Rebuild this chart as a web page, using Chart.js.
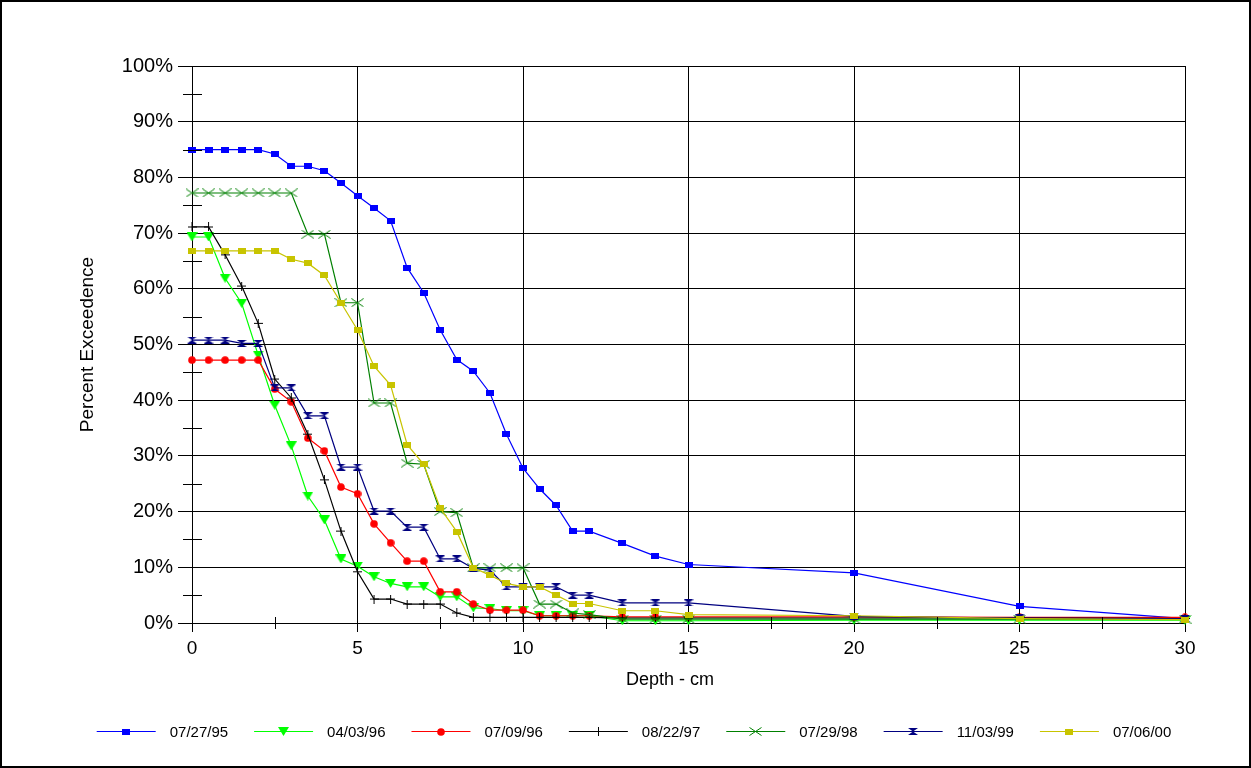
<!DOCTYPE html>
<html>
<head>
<meta charset="utf-8">
<script src="https://cdn.jsdelivr.net/npm/chart.js@4.4.0/dist/chart.umd.min.js"></script>
<style>
  html, body { margin: 0; padding: 0; background: #ffffff; }
  #wrap { width: 1251px; height: 768px; }
</style>
</head>
<body>
<div id="wrap"><canvas id="c" width="1251" height="768"></canvas></div>
<script>
// Depth (cm) at which each exceedence value was sampled
const depths = [0, 0.5, 1, 1.5, 2, 2.5, 3, 3.5, 4, 4.5, 5, 5.5, 6, 6.5, 7, 7.5, 8, 8.5, 9, 9.5, 10, 10.5, 11, 11.5, 12, 13, 14, 15, 20, 25, 30];

// Survey dates (series names)
const surveyDates = ['07/27/95', '04/03/96', '07/09/96', '08/22/97', '07/29/98', '11/03/99', '07/06/00'];

// Percent exceedence per survey
const s950727 = [85, 85, 85, 85, 85, 84.2, 82, 82, 81.2, 79, 76.7, 74.5, 72.2, 63.8, 59.3, 52.6, 47.3, 45.2, 41.3, 33.9, 27.8, 24.1, 21.1, 16.5, 16.5, 14.3, 12.0, 10.5, 9.0, 3.0, 0.8];
const s960403 = [69.3, 69.3, 61.9, 57.4, 48.1, 39.1, 31.8, 22.8, 18.5, 11.5, 10.2, 8.3, 7.1, 6.5, 6.5, 4.7, 4.7, 2.7, 2.6, 2.2, 2.2, 1.3, 1.3, 1.3, 1.3, 0.4, 0.4, 0.4, 0.5, 0.5, 0.5];
const s960709 = [47.2, 47.2, 47.2, 47.2, 47.2, 42.0, 39.7, 33.2, 30.9, 24.4, 23.2, 17.8, 14.4, 11.1, 11.1, 5.6, 5.6, 3.4, 2.3, 2.3, 2.3, 1.3, 1.3, 1.3, 1.3, 1.1, 1.1, 1.1, 1.1, 1.0, 1.0];
const s970822 = [71.1, 71.1, 66.1, 60.5, 53.8, 43.8, 40.4, 33.9, 25.7, 16.5, 9.2, 4.3, 4.3, 3.4, 3.4, 3.4, 1.8, 1.0, 1.0, 1.0, 1.0, 1.0, 1.0, 1.0, 1.0, 0.9, 0.9, 0.9, 0.9, 0.9, 0.8];
const s980729 = [77.2, 77.2, 77.2, 77.2, 77.2, 77.2, 77.2, 69.8, 69.8, 57.5, 57.5, 39.5, 39.5, 28.7, 28.5, 20.0, 19.8, 9.9, 9.9, 9.9, 9.9, 3.4, 3.4, 1.8, 1.5, 0.7, 0.7, 0.7, 0.7, 0.7, 0.7];
const s991103 = [50.8, 50.8, 50.8, 50.2, 50.2, 42.2, 42.2, 37.2, 37.2, 28.0, 28.0, 20.1, 20.1, 17.2, 17.2, 11.5, 11.5, 9.8, 9.5, 6.5, 6.5, 6.5, 6.5, 5.0, 5.0, 3.6, 3.6, 3.6, 1.2, 0.9, 0.8];
const s000706 = [66.8, 66.8, 66.8, 66.8, 66.8, 66.8, 65.3, 64.6, 62.4, 57.5, 52.6, 46.1, 42.7, 32.0, 28.5, 20.6, 16.4, 9.9, 8.6, 7.1, 6.5, 6.5, 5.0, 3.5, 3.5, 2.2, 2.2, 1.5, 1.3, 0.8, 0.6];

const seriesValues = [s950727, s960403, s960709, s970822, s980729, s991103, s000706];

// Axis tick values
const xTickValues = [0, 5, 10, 15, 20, 25, 30];
const yTickValues = [0, 10, 20, 30, 40, 50, 60, 70, 80, 90, 100];

const FONT = 'Arial, "Liberation Sans", sans-serif';
const colors = ['#0000ff', '#00ff00', '#ff0000', '#000000', '#008000', '#000080', '#c8c400'];
const markerKinds = ['square', 'triDown', 'circle', 'plus', 'cross', 'hourglass', 'square'];

// Build small canvases used as point markers
function makeMarker(kind, color) {
  const c = document.createElement('canvas');
  const g = c.getContext('2d');
  if (kind === 'square') {
    c.width = 8; c.height = 6;
    g.fillStyle = color; g.fillRect(0, 0, 8, 6);
  } else if (kind === 'triDown') {
    c.width = 11; c.height = 9;
    g.fillStyle = color;
    g.beginPath(); g.moveTo(0, 0); g.lineTo(11, 0); g.lineTo(5.5, 9); g.closePath(); g.fill();
  } else if (kind === 'circle') {
    c.width = 8; c.height = 8;
    g.fillStyle = color;
    g.beginPath(); g.arc(4, 4, 3.8, 0, Math.PI * 2); g.fill();
  } else if (kind === 'plus') {
    c.width = 9; c.height = 9;
    g.strokeStyle = color; g.lineWidth = 1;
    g.beginPath(); g.moveTo(0, 4.5); g.lineTo(9, 4.5); g.moveTo(4.5, 0); g.lineTo(4.5, 9); g.stroke();
  } else if (kind === 'cross') {
    c.width = 13; c.height = 9;
    g.strokeStyle = color; g.lineWidth = 1;
    g.beginPath(); g.moveTo(0.5, 0.5); g.lineTo(12.5, 8.5); g.moveTo(0.5, 8.5); g.lineTo(12.5, 0.5); g.stroke();
  } else if (kind === 'hourglass') {
    c.width = 10; c.height = 7;
    g.fillStyle = color;
    g.beginPath(); g.moveTo(0, 0); g.lineTo(10, 0); g.lineTo(5, 3.5); g.closePath(); g.fill();
    g.beginPath(); g.moveTo(0, 7); g.lineTo(10, 7); g.lineTo(5, 3.5); g.closePath(); g.fill();
  }
  return c;
}

const markers = markerKinds.map((k, i) => makeMarker(k, colors[i]));

const datasets = surveyDates.map((name, i) => ({
  label: name,
  data: depths.map((d, j) => ({ x: d, y: seriesValues[i][j] })),
  borderColor: colors[i],
  backgroundColor: colors[i],
  borderWidth: 1.2,
  pointStyle: markers[i],
  pointRadius: 5,
  pointHoverRadius: 5,
  tension: 0,
  fill: false,
  clip: false,
  order: 10 - i
}));

// White background, outer frame, minor ticks, x-axis title and legend
const decorations = {
  id: 'decorations',
  beforeDraw(chart) {
    const ctx = chart.ctx;
    ctx.save();
    ctx.fillStyle = '#ffffff';
    ctx.fillRect(0, 0, chart.width, chart.height);
    ctx.restore();
  },
  afterDraw(chart) {
    const ctx = chart.ctx;
    const xs = chart.scales.x, ys = chart.scales.y;
    const ca = chart.chartArea;
    ctx.save();
    ctx.strokeStyle = '#000000';
    ctx.lineWidth = 1;
    // minor ticks on the y axis (5% steps)
    for (let v = 5; v < 100; v += 10) {
      const py = Math.round(ys.getPixelForValue(v)) + 0.5;
      ctx.beginPath(); ctx.moveTo(ca.left - 9, py); ctx.lineTo(ca.left + 10, py); ctx.stroke();
    }
    // minor ticks on the x axis (2.5 cm steps)
    for (let v = 2.5; v < 30; v += 5) {
      const px = Math.round(xs.getPixelForValue(v)) + 0.5;
      ctx.beginPath(); ctx.moveTo(px, ca.bottom - 6); ctx.lineTo(px, ca.bottom + 6); ctx.stroke();
    }
    // x-axis title
    ctx.fillStyle = '#000000';
    ctx.font = '18px ' + FONT;
    ctx.textAlign = 'center';
    ctx.textBaseline = 'middle';
    ctx.fillText('Depth - cm', 670, 680);

    // legend row
    ctx.font = '15px ' + FONT;
    ctx.textAlign = 'left';
    const lineLen = 59, gap = 14, spacing = 26;
    const widths = surveyDates.map(t => ctx.measureText(t).width);
    let total = widths.reduce((a, w) => a + lineLen + gap + w, 0) + spacing * (surveyDates.length - 1);
    let x = 634 - total / 2;
    const ly = 731.5;
    surveyDates.forEach((t, i) => {
      ctx.strokeStyle = colors[i];
      ctx.lineWidth = 1.2;
      ctx.beginPath(); ctx.moveTo(x, ly); ctx.lineTo(x + lineLen, ly); ctx.stroke();
      const m = markers[i];
      ctx.drawImage(m, Math.round(x + lineLen / 2 - m.width / 2), Math.round(ly - m.height / 2));
      ctx.fillStyle = '#000000';
      ctx.fillText(t, x + lineLen + gap, ly + 1);
      x += lineLen + gap + widths[i] + spacing;
    });

    // outer frame
    ctx.strokeStyle = '#000000';
    ctx.lineWidth = 2;
    ctx.strokeRect(1, 1, chart.width - 2, chart.height - 2);
    ctx.restore();
  }
};

new Chart(document.getElementById('c'), {
  type: 'line',
  data: { datasets },
  plugins: [decorations],
  options: {
    responsive: false,
    animation: false,
    devicePixelRatio: 1,
    layout: { padding: { left: 0, right: 66, top: 66, bottom: 75 } },
    plugins: {
      legend: { display: false },
      tooltip: { enabled: false }
    },
    scales: {
      x: {
        type: 'linear',
        min: 0,
        max: 30,
        afterBuildTicks: s => { s.ticks = xTickValues.map(v => ({ value: v })); },
        afterFit: s => { s.height = 70; },
        ticks: {
          color: '#000000',
          font: { family: FONT, size: 19 },
          padding: 5,
          maxRotation: 0
        },
        grid: { color: '#000000', lineWidth: 1, tickLength: 9, drawTicks: true },
        border: { display: true, color: '#000000', width: 1 },
        title: { display: false }
      },
      y: {
        type: 'linear',
        min: 0,
        max: 100,
        afterBuildTicks: s => { s.ticks = yTickValues.map(v => ({ value: v })); },
        afterFit: s => { s.width = 192; },
        ticks: {
          color: '#000000',
          font: { family: FONT, size: 20 },
          padding: 5,
          callback: v => v + '%'
        },
        grid: { color: '#000000', lineWidth: 1, tickLength: 14, drawTicks: true },
        border: { display: true, color: '#000000', width: 1 },
        title: {
          display: true,
          text: 'Percent Exceedence',
          color: '#000000',
          font: { family: FONT, size: 19 },
          padding: { top: 76, bottom: 0 }
        }
      }
    }
  }
});
</script>
</body>
</html>
